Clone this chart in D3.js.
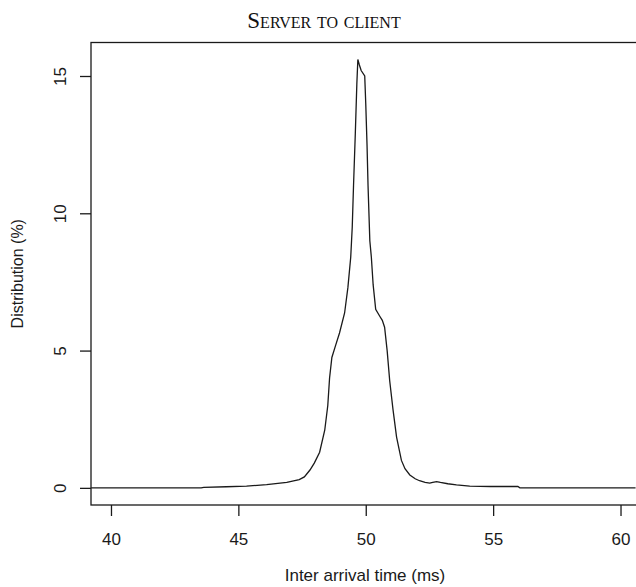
<!DOCTYPE html>
<html>
<head>
<meta charset="utf-8">
<script src="https://cdn.jsdelivr.net/npm/d3@7"></script>
<style>
  body { margin: 0; background: #fff; }
  svg { display: block; }
  .tick text { font-family: "Liberation Sans", Arial, sans-serif; }
</style>
</head>
<body>
<svg width="636" height="587"></svg>
<script>
const width = 636, height = 587;
const svg = d3.select("svg");

// Inter arrival time (ms)
const times = [39.22, 43.54, 43.64, 44.53, 45.32, 46.11, 46.90, 47.39, 47.59, 47.81,
    47.98, 48.19, 48.39, 48.51, 48.58, 48.67, 48.82, 48.97, 49.17, 49.30,
    49.41, 49.47, 49.52, 49.59, 49.65, 49.69, 49.75, 49.82, 49.96, 50.00,
    50.05, 50.09, 50.16, 50.22, 50.29, 50.39, 50.55, 50.65, 50.74, 50.84,
    50.94, 51.07, 51.21, 51.40, 51.54, 51.73, 51.94, 52.11, 52.33, 52.51,
    52.63, 52.78, 52.93, 53.22, 53.56, 54.08, 54.90, 55.97, 56.05, 60.59];

// Distribution (%)
const dist = [0, 0, 0.02, 0.04, 0.06, 0.12, 0.2, 0.3, 0.4, 0.65,
    0.9, 1.3, 2.1, 3.0, 4.0, 4.75, 5.2, 5.64, 6.37, 7.3,
    8.4, 9.5, 11.0, 12.9, 14.7, 15.6, 15.4, 15.2, 15.0, 14.0,
    12.5, 11.0, 9.0, 8.4, 7.4, 6.5, 6.25, 6.1, 5.85, 5.0,
    3.9, 2.85, 1.85, 1.0, 0.7, 0.47, 0.33, 0.26, 0.2, 0.17,
    0.2, 0.23, 0.2, 0.15, 0.11, 0.06, 0.05, 0.05, 0, 0];

const xTicks = [40, 45, 50, 55, 60];
const yTicks = [0, 5, 10, 15];

const plot = { left: 91, right: 640, top: 42.5, bottom: 505 };

const x = d3.scaleLinear().domain([39.2157, 60.7647]).range([91, 640]);
const y = d3.scaleLinear().domain([-0.624, 16.22]).range([plot.bottom, plot.top]);

// Curve
const line = d3.line().x((d, i) => x(times[i])).y(d => y(d));
svg.append("path")
    .datum(dist)
    .attr("d", line)
    .attr("fill", "none")
    .attr("stroke", "#1a1a1a")
    .attr("stroke-width", 1.3);

// Box
svg.append("rect")
    .attr("x", plot.left)
    .attr("y", plot.top)
    .attr("width", plot.right - plot.left)
    .attr("height", plot.bottom - plot.top)
    .attr("fill", "none")
    .attr("stroke", "#1a1a1a")
    .attr("stroke-width", 1.3);

// x axis (R style, detached ticks)
const xAxis = svg.append("g")
    .attr("transform", `translate(0,${plot.bottom})`)
    .call(d3.axisBottom(x).tickValues(xTicks).tickSize(11).tickPadding(17).tickSizeOuter(0));
xAxis.select(".domain").remove();
xAxis.selectAll(".tick line").attr("stroke", "#1a1a1a").attr("stroke-width", 1.3);
xAxis.selectAll(".tick text").style("font-size", "17px").attr("fill", "#1a1a1a");

// y axis, labels rotated like R's las=0
const yAxis = svg.append("g")
    .attr("transform", `translate(${plot.left},0)`)
    .call(d3.axisLeft(y).tickValues(yTicks).tickSize(11).tickSizeOuter(0));
yAxis.select(".domain").remove();
yAxis.selectAll(".tick line").attr("stroke", "#1a1a1a").attr("stroke-width", 1.3);
yAxis.selectAll(".tick text")
    .attr("x", null).attr("dy", null)
    .attr("transform", "translate(-25,0) rotate(-90)")
    .attr("text-anchor", "middle")
    .style("font-size", "17px").attr("fill", "#1a1a1a");

// Axis titles
svg.append("text")
    .attr("x", 365).attr("y", 581)
    .attr("text-anchor", "middle")
    .style("font-family", "Liberation Sans, Arial, sans-serif")
    .style("font-size", "17px").attr("fill", "#1a1a1a")
    .text("Inter arrival time (ms)");

svg.append("text")
    .attr("transform", `translate(23,${(plot.top + plot.bottom) / 2}) rotate(-90)`)
    .attr("text-anchor", "middle")
    .style("font-family", "Liberation Sans, Arial, sans-serif")
    .style("font-size", "16px").attr("fill", "#1a1a1a")
    .text("Distribution (%)");

// Title in small caps
svg.append("text")
    .attr("x", 324).attr("y", 28)
    .attr("text-anchor", "middle")
    .style("font-family", "Liberation Serif, Times New Roman, serif")
    .style("font-variant", "small-caps")
    .style("font-size", "23px").attr("fill", "#111")
    .text("Server to client");
</script>
</body>
</html>
